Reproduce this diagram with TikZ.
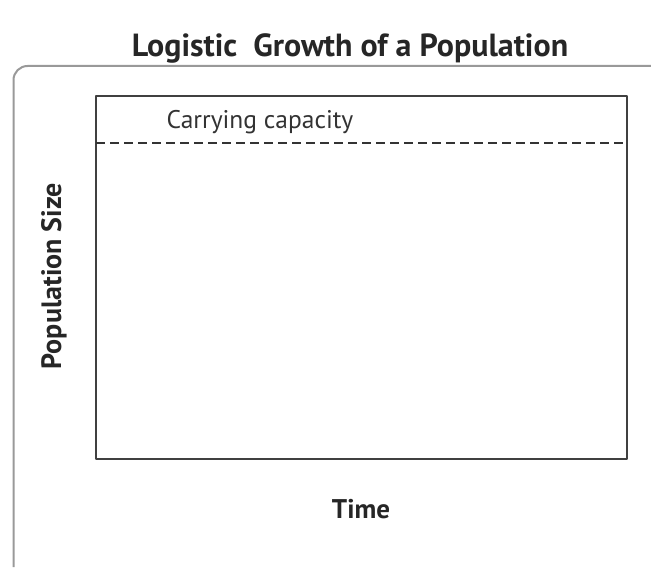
\documentclass[tikz,border=0pt]{standalone}
\usepackage{fontspec}
\setmainfont{PT Sans}
\usepackage{tikz}

\begin{document}
\begin{tikzpicture}[line cap=butt,line join=round,x=1pt,y=-1pt]
\useasboundingbox (0,0) rectangle (651,569);
%outer frame
\draw[color=gray!80,line width=2pt,rounded corners=14pt] (13.5,567)--(13.5,66)--(670,66);
%plot box
\coordinate (ul) at (96,96);
\coordinate (lr) at (627,459);
\draw[line width=1.2pt,color=black!75] (ul) rectangle (lr);
%carrying capacity
\coordinate (kl) at (96,143);
\coordinate (kr) at (627,143);
\draw[line width=2.6pt,color=black!80,dash pattern=on 9pt off 5pt] (kl)--(kr);
\node (kap) at (260,122) {\fontsize{25.5}{27}\selectfont\color{black!80}Carrying capacity};
%labels
\node (title) at (350,48) {\fontsize{32}{34}\selectfont\bfseries\color{black!85}Logistic\ \ Growth of a Population};
\node [rotate=90] (ylab) at (54,276) {\fontsize{28}{30}\selectfont\bfseries\color{black!85}Population Size};
\node (xlab) at (361,509) {\fontsize{27}{29}\selectfont\bfseries\color{black!85}Time};
\end{tikzpicture}
\end{document}
